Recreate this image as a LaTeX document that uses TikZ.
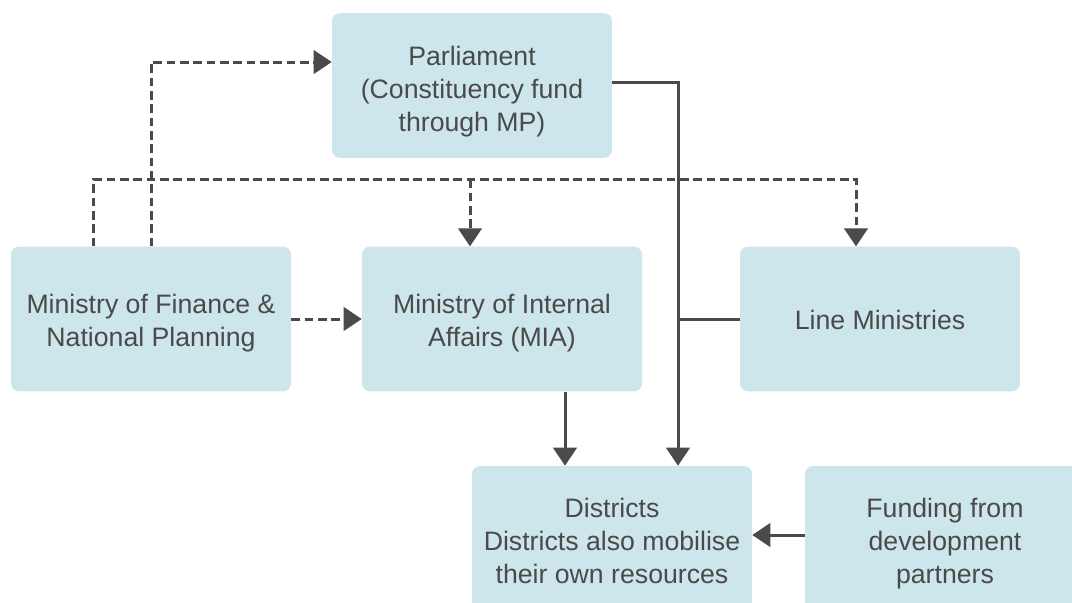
\documentclass[tikz,border=0pt]{standalone}
\usepackage{fontspec}
\setmainfont{Liberation Sans}
\usetikzlibrary{arrows.meta}
\definecolor{boxfill}{HTML}{CDE6EC}
\definecolor{ink}{HTML}{4A4A4A}
\newcommand{\bxt}[2]{\raisebox{-#1}[\height][\depth]{\begin{tabular}{@{}c@{}}#2\end{tabular}}}
\tikzset{
  box/.style={fill=boxfill, draw=none, rounded corners=6pt, minimum width=210pt,
    minimum height=108.5pt, inner sep=0pt, align=center, text=ink,
    font=\fontsize{20pt}{24.75pt}\selectfont},
  conn/.style={draw=ink, line width=2.25pt, -{Triangle[length=13.5pt,width=17.5pt]}},
  plain/.style={draw=ink, line width=2.25pt},
  dashconn/.style={conn, dash pattern=on 6.5pt off 3.5pt}
}
\begin{document}
\begin{tikzpicture}[x=0.75pt,y=-0.75pt]
\useasboundingbox (0,0) rectangle (1072,603);
\clip (0,0) rectangle (1072,603);
\node[box] (parl) at (472,85.5) {\bxt{4.5pt}{Parliament\\(Constituency fund\\through MP)}};
\node[box] (mof) at (151,319) {\bxt{3pt}{Ministry of Finance \&\\National Planning}};
\node[box] (mia) at (502,319) {\bxt{3pt}{Ministry of Internal\\Affairs (MIA)}};
\node[box] (line) at (880,319) {\bxt{3pt}{Line Ministries}};
\node[box, minimum height=111pt] (dist) at (612,540) {\bxt{3pt}{Districts\\Districts also mobilise\\their own resources}};
\node[box, minimum height=111pt] (fund) at (945,540) {\bxt{3pt}{Funding from\\development\\partners}};

% dashed connectors
\draw[dashconn] (mof.north) |- ([yshift=17.6pt]parl.west);
\draw[dashconn] ([xshift=-43pt]mof.north) -- ++(0,-67) -| ([xshift=-18pt]line.north);
\draw[dashconn] ([xshift=-24pt]mia.north) ++(0,-67) -- ([xshift=-24pt]mia.north);
\draw[dashconn] (mof.east) -- (mia.west);

% solid connectors
\draw[conn] ([yshift=2.6pt]parl.east) -| ([xshift=49.5pt]dist.north);
\draw[plain] (line.west) -- ++(-62,0);
\draw[conn] ([xshift=47.25pt]mia.south) -- ([xshift=47.25pt]mia.south |- dist.north);
\draw[conn] ([yshift=3.75pt]fund.west) -- ([yshift=3.75pt]dist.east);
\end{tikzpicture}
\end{document}
